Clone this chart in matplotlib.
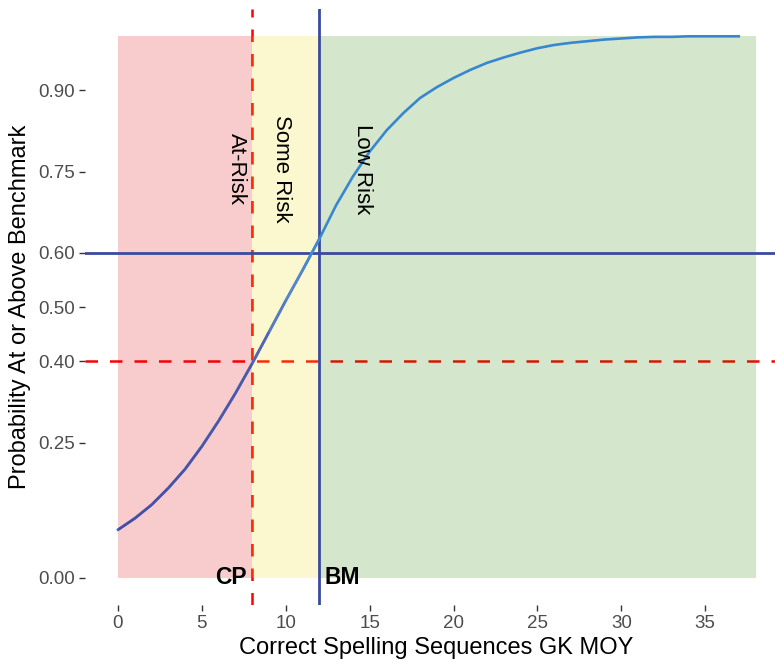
import numpy as np
import matplotlib.pyplot as plt
from matplotlib.collections import LineCollection
from matplotlib.colors import LinearSegmentedColormap
from matplotlib.patches import Rectangle

plt.rcParams['font.family'] = ['Liberation Sans', 'DejaVu Sans']

# Datos
score = list(range(0, 38))
prob = [0.089, 0.110, 0.135, 0.166, 0.201, 0.243, 0.290, 0.341, 0.396, 0.454,
        0.512, 0.568, 0.626, 0.688, 0.741, 0.787, 0.826, 0.858, 0.886, 0.906,
        0.923, 0.938, 0.951, 0.961, 0.970, 0.978, 0.984, 0.988, 0.991, 0.994,
        0.996, 0.998, 0.999, 0.999, 1.000, 1.000, 1.000, 1.000]

cp_score = 8
bm_score = 12
cp_prob = 0.40
bm_prob = 0.60
x_max = 38

zones = [(0, cp_score, "#DC0005"), (cp_score, bm_score, "#EBDC14"), (bm_score, x_max, "#288200")]
zone_labels = ["At-Risk", "Some Risk", "Low Risk"]
zone_label_x = [7.05, 9.75, 14.6]
zone_label_y = 0.755

y_ticks = [0.00, 0.25, 0.40, 0.50, 0.60, 0.75, 0.90]
x_ticks = [0, 5, 10, 15, 20, 25, 30, 35]

fig = plt.figure(figsize=(7.75, 6.68), dpi=100)
ax = fig.add_axes([0.1100, 0.0942, 0.906, 0.892])
ax.set_xlim(-1.95, 39.9)
ax.set_ylim(-0.05, 1.05)

# Líneas rojas (debajo del sombreado)
red = "#FF0000"
ax.axvline(cp_score, color=red, lw=1.8, dashes=(5, 4.8), zorder=1)
ax.axhline(cp_prob, color=red, lw=1.8, dashes=(5, 4.8), zorder=1)

# Zonas
for x0, x1, c in zones:
    ax.add_patch(Rectangle((x0, 0), x1 - x0, 1, facecolor=c, alpha=0.2,
                           edgecolor="none", zorder=2))

# Líneas azules
blue = "#3B4A9F"
ax.axvline(bm_score, color=blue, lw=2, zorder=3)
ax.axhline(bm_prob, color=blue, lw=2, zorder=3)

# Curva: trazo base y degradado en la parte baja
ax.plot(score, prob, color="#3787D0", lw=1.9, solid_joinstyle="round",
        zorder=4)
xs = np.array(score, dtype=float)
ys = np.array(prob)
low = xs <= bm_score
pts = np.column_stack([xs[low], ys[low]]).reshape(-1, 1, 2)
segs = np.concatenate([pts[:-1], pts[1:]], axis=1)
cmap = LinearSegmentedColormap.from_list(
    "curve", [(0.0, "#4A4CA2"), (0.62, "#5058A9"), (0.8, "#5E86CC"),
              (1.0, "#3C88D2")])
lc = LineCollection(segs, colors=cmap(xs[low][:-1] / bm_score), linewidth=1.9,
                    capstyle="butt", joinstyle="round", zorder=4.5)
ax.add_collection(lc)

# Textos
for lab, lx in zip(zone_labels, zone_label_x):
    ax.text(lx, zone_label_y, lab, rotation=-90, ha="center", va="center",
            fontsize=16, color="black", zorder=5)
ax.text(cp_score - 0.35, 0, "CP", ha="right", va="center", fontsize=16.5,
        fontweight="bold", zorder=5)
ax.text(bm_score + 0.3, 0, "BM", ha="left", va="center", fontsize=16.5,
        fontweight="bold", zorder=5)

ax.set_yticks(y_ticks)
ax.set_yticklabels([f"{v:.2f}" for v in y_ticks])
ax.set_xticks(x_ticks)
for s in ax.spines.values():
    s.set_visible(False)
ax.tick_params(axis="both", labelsize=13.5, labelcolor="#4D4D4D",
               color="#333333", length=4.5, width=1, pad=3)

ax.set_xlabel("Correct Spelling Sequences GK MOY", fontsize=17, labelpad=3)
ax.set_ylabel("Probability At or Above Benchmark", fontsize=17, labelpad=5)

fig.savefig("out.png", dpi=100)
